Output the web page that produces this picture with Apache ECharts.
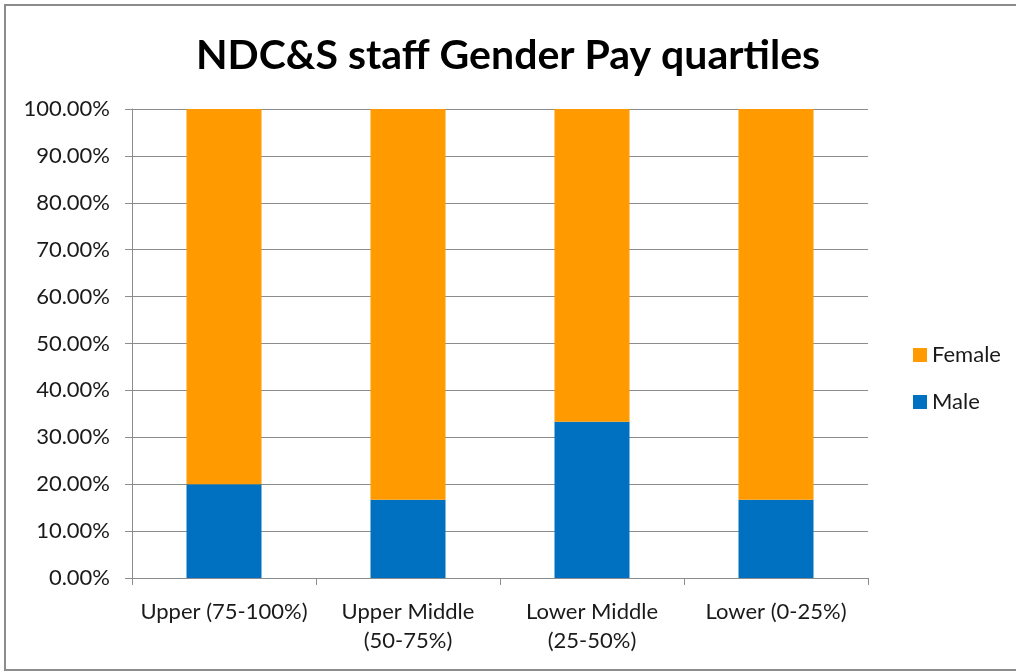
<!DOCTYPE html>
<html>
<head>
<meta charset="utf-8">
<script src="https://cdn.jsdelivr.net/npm/echarts@6/dist/echarts.min.js"></script>
<style>
  html, body { margin: 0; padding: 0; background: #fff; }
  #main { width: 1016px; height: 672px; }
</style>
</head>
<body>
<div id="main"></div>
<script>
// quartile categories
var categories = ['Upper (75-100%)', 'Upper Middle\n(50-75%)', 'Lower Middle\n(25-50%)', 'Lower (0-25%)'];
var maleValues = [20, 16.67, 33.33, 16.67];
var femaleValues = [80, 83.33, 66.67, 83.33];

var font = 'Lato';
var chart = echarts.init(document.getElementById('main'));

var option = {
  backgroundColor: '#fff',
  animation: false,
  textStyle: { fontFamily: font },
  graphic: [{
    type: 'rect',
    shape: { x: 5, y: 5, width: 1020, height: 665 },
    style: { fill: 'none', stroke: '#8c8c8c', lineWidth: 2 },
    silent: true
  }],
  title: {
    text: 'NDC&S staff Gender Pay quartiles',
    left: 'center',
    top: 30,
    textStyle: { fontFamily: font, fontWeight: 'bold', fontSize: 41, color: '#000' }
  },
  legend: {
    data: ['Female', 'Male'],
    orient: 'vertical',
    left: 908,
    top: 339,
    itemWidth: 14,
    itemHeight: 14,
    itemGap: 25,
    icon: 'rect',
    textStyle: { fontFamily: font, fontSize: 22, color: '#1a1a1a', lineHeight: 22 }
  },
  grid: { left: 132, right: 148, top: 109, bottom: 94, containLabel: false },
  xAxis: {
    type: 'category',
    data: categories,
    axisLine: { lineStyle: { color: '#8c8c8c', width: 1 } },
    axisTick: { show: true, length: 7, alignWithLabel: false, lineStyle: { color: '#8c8c8c' } },
    axisLabel: { fontFamily: font, fontSize: 22, color: '#1a1a1a', margin: 19, lineHeight: 29, interval: 0 }
  },
  yAxis: {
    type: 'value',
    min: 0,
    max: 100,
    interval: 10,
    axisLine: { show: true, lineStyle: { color: '#8c8c8c', width: 1 } },
    axisTick: { show: true, length: 7, lineStyle: { color: '#8c8c8c' } },
    splitLine: { lineStyle: { color: '#8c8c8c', width: 1 } },
    axisLabel: {
      fontFamily: font, fontSize: 22, color: '#1a1a1a', margin: 22,
      formatter: function (v) { return v.toFixed(2) + '%'; }
    }
  },
  series: [
    {
      name: 'Male',
      type: 'bar',
      stack: 'total',
      barWidth: 75,
      itemStyle: { color: '#0070c0' },
      data: maleValues
    },
    {
      name: 'Female',
      type: 'bar',
      stack: 'total',
      barWidth: 75,
      itemStyle: { color: '#ff9a00' },
      data: femaleValues
    }
  ]
};

chart.setOption(option);
</script>
</body>
</html>
